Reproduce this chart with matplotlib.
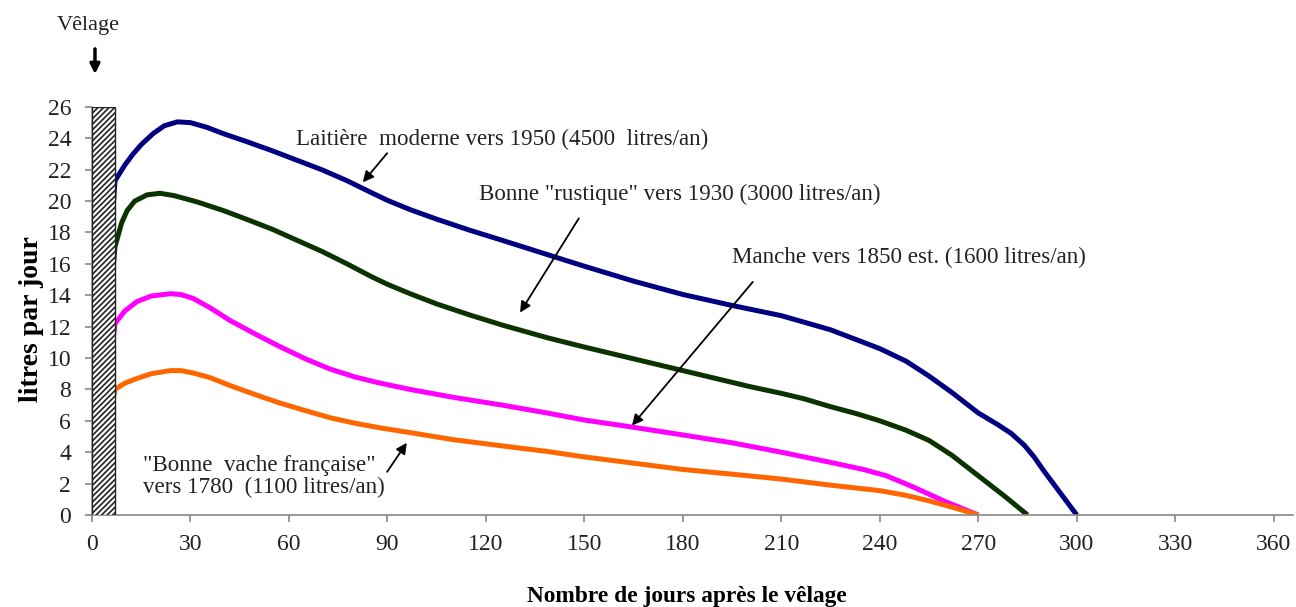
import matplotlib
matplotlib.use("Agg")
import matplotlib.pyplot as plt

plt.rcParams['font.family'] = ['Liberation Serif', 'DejaVu Serif']
plt.rcParams['hatch.linewidth'] = 1.2

# lactation curves: days after calving, litres per day
days_1950 = [0, 7, 10, 12.5, 15, 18.6, 22, 26, 30, 35, 40, 47, 55, 62.5, 70, 77.7, 85, 90,
             97, 105, 115, 125, 138.6, 150, 165, 180, 195, 210, 225, 240, 248, 255, 262,
             270, 276, 280, 284, 287, 290, 295, 300]
litres_1950 = [0, 21.3, 22.3, 23.0, 23.6, 24.3, 24.8, 25.05, 25.0, 24.7, 24.3, 23.8, 23.2,
               22.6, 22.0, 21.3, 20.55, 20.05, 19.45, 18.85, 18.15, 17.5, 16.6, 15.85, 14.9,
               14.05, 13.35, 12.7, 11.8, 10.6, 9.8, 8.85, 7.8, 6.5, 5.75, 5.2, 4.45, 3.7,
               2.8, 1.4, 0]

days_1930 = [0, 7, 9, 10.7, 13, 16.8, 20.7, 25, 32, 40, 47, 55, 62.5, 70, 77.7, 85, 90,
             96.9, 105, 115, 125, 138.6, 150, 165, 179, 190, 200, 210, 217, 225, 233, 240,
             248, 255, 262, 270, 278, 285]
litres_1930 = [0, 17.1, 18.6, 19.4, 20.0, 20.4, 20.5, 20.35, 19.95, 19.4, 18.85, 18.2, 17.5,
               16.8, 16.0, 15.2, 14.7, 14.1, 13.45, 12.75, 12.1, 11.3, 10.7, 9.95, 9.25, 8.7,
               8.2, 7.75, 7.4, 6.9, 6.45, 6.0, 5.4, 4.75, 3.8, 2.5, 1.2, 0]

days_1850 = [0, 7, 10, 13.7, 18, 23.8, 27, 30.8, 36, 42, 50, 57, 65, 72.5, 80, 87.8, 96.9,
             110, 125, 138.6, 150, 164.6, 180, 195, 210, 225, 235, 242, 250, 260, 270]
litres_1850 = [0, 12.2, 13.0, 13.6, 13.95, 14.1, 14.05, 13.8, 13.2, 12.4, 11.5, 10.75, 9.95,
               9.3, 8.8, 8.4, 8.0, 7.5, 7.0, 6.5, 6.05, 5.6, 5.1, 4.6, 4.0, 3.35, 2.9, 2.5,
               1.8, 0.85, 0]

days_1780 = [0, 7, 10, 13.7, 18, 23.8, 27, 30.8, 36, 42, 50, 57, 65, 72.5, 80, 87.8, 96.9,
             110, 125, 138.6, 150, 165, 180, 195, 209.5, 225, 240, 248, 255, 262, 270]
litres_1780 = [0, 8.0, 8.4, 8.7, 9.0, 9.2, 9.2, 9.05, 8.75, 8.25, 7.65, 7.15, 6.65, 6.2, 5.85,
               5.55, 5.25, 4.8, 4.4, 4.05, 3.7, 3.3, 2.9, 2.6, 2.3, 1.9, 1.55, 1.25, 0.9,
               0.5, 0]

xticks = list(range(0, 361, 30))
yticks = list(range(0, 27, 2))

fig = plt.figure(figsize=(12.96, 6.07), dpi=100)
ax = fig.add_axes([0.071, 0.1516, 0.927, 0.6722])

lw = 3.6
line_kw = dict(lw=lw, zorder=2, solid_joinstyle='round', solid_capstyle='butt')
ax.plot(days_1950, litres_1950, color='#000080', **line_kw)
ax.plot(days_1930, litres_1930, color='#0b3300', **line_kw)
ax.plot(days_1850, litres_1850, color='#ff00ff', **line_kw)
ax.plot(days_1780, litres_1780, color='#ff6600', **line_kw)

# calving period (hatched)
ax.bar(3.5, 26, width=7, facecolor='white', edgecolor='#222222', hatch='//////',
       lw=1, zorder=3)

ax.set_xlim(0, 366)
ax.set_ylim(0, 26)
ax.set_xticks(xticks)
ax.set_yticks(yticks)
for s in ['top', 'right']:
    ax.spines[s].set_visible(False)
for s in ['left', 'bottom']:
    ax.spines[s].set_color('#888888')
    ax.spines[s].set_linewidth(1.2)
ax.tick_params(axis='both', colors='#888888', labelcolor='#222222', labelsize=17,
               length=5, width=1.2)
ax.tick_params(axis='y', pad=10)
ax.tick_params(axis='x', pad=9)

ax.set_ylabel("litres par jour", fontsize=20, fontweight='bold', va='center')
ax.yaxis.set_label_coords(-0.050, 0.48)
ax.set_xlabel("Nombre de jours après le vêlage", fontsize=16.8, fontweight='bold', va='center')
ax.xaxis.set_label_coords(0.495, -0.201)

arrow = dict(arrowstyle='-|>', color='black', lw=1.3, mutation_scale=16, shrinkA=0, shrinkB=0)
fs = 16.6
ax.text(125, 23.9, "Laitière  moderne vers 1950 (4500  litres/an)", fontsize=fs,
        ha='center', va='center', color='#222222')
ax.annotate("", xy=(82.5, 21.2), xytext=(89.9, 23.05), arrowprops=arrow)

ax.text(179, 20.4, "Bonne \"rustique\" vers 1930 (3000 litres/an)", fontsize=fs,
        ha='center', va='center', color='#222222')
ax.annotate("", xy=(130.4, 12.9), xytext=(148.3, 18.9), arrowprops=arrow)

ax.text(249, 16.4, "Manche vers 1850 est. (1600 litres/an)", fontsize=fs,
        ha='center', va='center', color='#222222')
ax.annotate("", xy=(164.5, 5.7), xytext=(201.3, 14.85), arrowprops=arrow)

ax.text(15.5, 2.45, "\"Bonne  vache française\"\nvers 1780  (1100 litres/an)", fontsize=fs,
        ha='left', va='center', color='#222222', linespacing=1.1)
ax.annotate("", xy=(95.9, 4.6), xytext=(89.9, 2.75), arrowprops=arrow)

# calving marker above the plot
ax.text(-1.2, 31.2, "Vêlage", fontsize=16, ha='center', va='center', color='#222222')
ax.annotate("", xy=(0.9, 28.1), xytext=(0.9, 29.7), annotation_clip=False,
            arrowprops=dict(arrowstyle='-|>', color='black', lw=2.5, mutation_scale=14,
                            shrinkA=0, shrinkB=0))

fig.savefig("out.png", dpi=100)
